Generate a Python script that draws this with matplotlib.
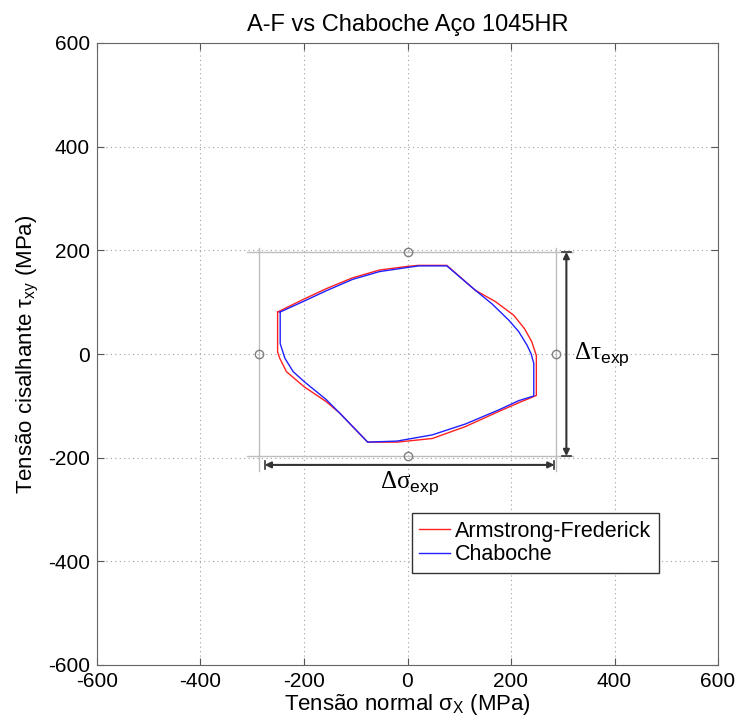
# A-F vs Chaboche - trajetoria de tensoes, aco 1045HR

import numpy as np
import matplotlib
matplotlib.use('Agg')
import matplotlib.pyplot as plt

plt.rcParams['font.family'] = ['Liberation Sans', 'DejaVu Sans']
plt.rcParams['mathtext.fontset'] = 'custom'
plt.rcParams['mathtext.rm'] = 'Liberation Sans'
plt.rcParams['mathtext.sf'] = 'Liberation Sans'
plt.rcParams['mathtext.it'] = 'Liberation Sans:italic'
plt.rcParams['axes.unicode_minus'] = False

# Armstrong-Frederick (sigma_x, tau_xy) em MPa
af_sx = [-251, -200, -157, -106, -54, 0, 22, 76, 131, 170, 205, 226, 240, 247, 249,
         249, 215, 176, 112, 48, -20, -77, -131, -157, -200, -234, -247, -251, -251]
af_txy = [81, 106, 126, 147, 162, 169, 171, 171, 123, 101, 75, 49, 24, 3, -3,
          -80, -94, -111, -140, -163, -170, -170, -114, -92, -63, -34, -8, 4, 81]

# Chaboche
ch_sx = [-246, -200, -157, -106, -54, 0, 22, 76, 131, 163, 196, 215, 231, 239, 244,
         244, 215, 176, 112, 48, -20, -77, -131, -157, -200, -221, -237, -246, -246]
ch_txy = [81, 102, 122, 144, 159, 167, 170, 170, 123, 97, 65, 43, 17, 0, -18,
          -81, -90, -108, -135, -156, -168, -170, -114, -88, -53, -34, -8, 20, 81]

# amplitudes experimentais
sig_amp = 287
tau_amp = 197
exp_sx = [-sig_amp, sig_amp, 0, 0]
exp_txy = [0, 0, tau_amp, -tau_amp]

# setas de cota
arr_tau_x = 307
arr_sig_y = -214
arr_sig_x = [-276, 284]

ticks = [-600, -400, -200, 0, 200, 400, 600]

fig = plt.figure(figsize=(7.39, 7.22), dpi=100)
ax = fig.add_axes([97/739, 57/722, 621/739, 622/722])

# linhas de referencia dos valores experimentais
gcol = '#bdbdbd'
ax.plot([-310, 320], [tau_amp, tau_amp], color=gcol, lw=1)
ax.plot([-310, 320], [-tau_amp, -tau_amp], color=gcol, lw=1)
ax.plot([-sig_amp, -sig_amp], [-225, 205], color=gcol, lw=1)
ax.plot([sig_amp, sig_amp], [-225, 205], color=gcol, lw=1)
ax.plot(exp_sx, exp_txy, 'o', mfc='none', mec='#808080', ms=6, mew=1)

ax.plot(af_sx, af_txy, color='#ff2020', lw=1, label='Armstrong-Frederick')
ax.plot(ch_sx, ch_txy, color='#2020ff', lw=1, label='Chaboche')

# cotas
acol = '#333333'
ax.annotate('', xy=(arr_tau_x, tau_amp), xytext=(arr_tau_x, -tau_amp),
            arrowprops=dict(arrowstyle='<|-|>', color=acol, lw=1.5,
                            mutation_scale=9, shrinkA=0, shrinkB=0))
ax.annotate('', xy=(arr_sig_x[0], arr_sig_y), xytext=(arr_sig_x[1], arr_sig_y),
            arrowprops=dict(arrowstyle='<|-|>', color=acol, lw=1.5,
                            mutation_scale=9, shrinkA=0, shrinkB=0))
for yy in [tau_amp, -tau_amp]:
    ax.plot([arr_tau_x - 8, arr_tau_x + 8], [yy, yy], color=acol, lw=1.2)
for xx in arr_sig_x:
    ax.plot([xx, xx], [arr_sig_y - 8, arr_sig_y + 8], color=acol, lw=1.2)

ax.text(322, 0, r'Δτ$_{\mathsf{exp}}$', family='Liberation Serif', fontsize=18,
        ha='left', va='center')
ax.text(5, -250, r'Δσ$_{\mathsf{exp}}$', family='Liberation Serif', fontsize=18,
        ha='center', va='center')

ax.set_xlim(-600, 600)
ax.set_ylim(-600, 600)
ax.set_xticks(ticks)
ax.set_yticks(ticks)
ax.grid(True, linestyle=(0, (1, 3)), color='#a0a0a0', lw=0.8)
ax.tick_params(direction='in', length=5, labelsize=15, top=True, right=True,
               color='#555555', pad=5)
for s in ax.spines.values():
    s.set_color('#666666')

ax.set_title('A-F vs Chaboche Aço 1045HR', fontsize=17, pad=9)
ax.set_xlabel(r'Tensão normal σ$_{\mathrm{X}}$ (MPa)', fontsize=16, labelpad=1)
ax.set_ylabel(r'Tensão cisalhante τ$_{\mathrm{xy}}$ (MPa)', fontsize=16, labelpad=5)

leg = ax.legend(loc='upper left', bbox_to_anchor=(0.507, 0.244), borderaxespad=0,
                fontsize=15.5, handlelength=1.4, handletextpad=0.25, borderpad=0.35,
                labelspacing=0.12, fancybox=False, framealpha=1)
leg.get_frame().set_edgecolor('#333333')
leg.get_frame().set_linewidth(1)

plt.savefig('out.png', dpi=100)
